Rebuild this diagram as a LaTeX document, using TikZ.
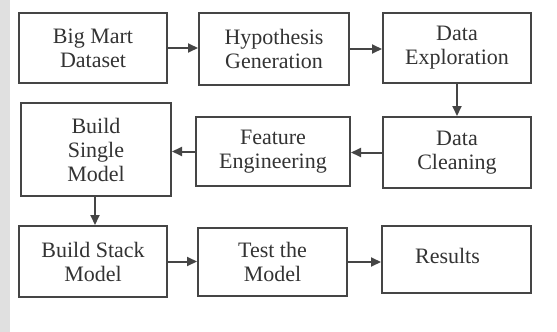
\documentclass[tikz,border=0pt]{standalone}
\usepackage{fontspec}
\setmainfont{Liberation Serif}
\usetikzlibrary{arrows.meta}
\definecolor{ink}{HTML}{333333}
\definecolor{edge}{HTML}{454545}
\tikzset{
  stagebox/.style={draw=edge, line width=2pt, fill=white, align=center, inner sep=0pt,
    text=ink, font=\fontsize{22}{24}\selectfont},
  flow/.style={draw=edge, line width=2pt, -{Triangle[length=10pt,width=9pt]}},
}
\begin{document}
\begin{tikzpicture}[x=1pt,y=-1pt]
\fill[white] (0,0) rectangle (557,332);
\useasboundingbox (0,0) rectangle (557,332);
\fill[black!12] (0,0) rectangle (10,332);
\node[stagebox, minimum width=148pt, minimum height=70pt] (A) at (93,48) {Big Mart\\Dataset};
\node[stagebox, minimum width=150pt, minimum height=72pt] (B) at (274,49) {Hypothesis\\Generation};
\node[stagebox, minimum width=148pt, minimum height=70pt] (C) at (457,48) {Data\\Exploration};
\node[stagebox, minimum width=148pt, minimum height=71pt] (D) at (457,152.5) {Data\\Cleaning};
\node[stagebox, minimum width=154pt, minimum height=69pt] (E) at (273,151.5) {Feature\\Engineering};
\node[stagebox, minimum width=150pt, minimum height=93pt] (F) at (96,149.5) {Build\\Single\\Model};
\node[stagebox, minimum width=148pt, minimum height=71pt] (G) at (93,261.5) {Build Stack\\Model};
\node[stagebox, minimum width=149pt, minimum height=68pt] (H) at (272.5,262) {Test the\\Model};
\node[stagebox, minimum width=149pt, minimum height=67pt] (I) at (456.5,259.5) {\raisebox{8pt}{Results}\hspace*{18pt}};
\draw[flow] (A.east) -- (A.east -| B.west);
\draw[flow] (B.east) -- (B.east -| C.west);
\draw[flow] (C.south) -- (D.north);
\draw[flow] (D.west) -- (D.west -| E.east);
\draw[flow] (E.west) -- (E.west -| F.east);
\coordinate (fs) at ([xshift=-1pt]F.south);
\draw[flow] (fs) -- (fs |- G.north);
\draw[flow] (G.east) -- (G.east -| H.west);
\draw[flow] (H.east) -- (H.east -| I.west);
\end{tikzpicture}
\end{document}
